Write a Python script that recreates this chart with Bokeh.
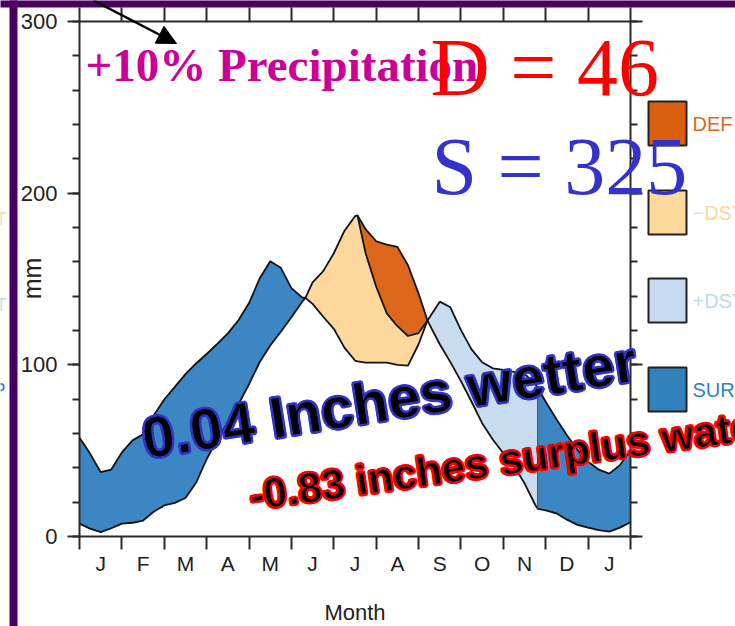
import math
from bokeh.plotting import figure
from bokeh.models import (LinearAxis, FixedTicker, Label, BoxAnnotation, Arrow,
                          NormalHead, Range1d, ColumnDataSource)
from bokeh.embed import file_html
from bokeh.resources import INLINE

# ---------------- data ----------------
month = [0, 0.25, 0.5, 0.75, 1, 1.25, 1.5, 1.75, 2, 2.25, 2.5, 2.75, 3, 3.25, 3.5, 3.75,
         4, 4.25, 4.5, 4.75, 5, 5.25, 5.33, 5.5, 5.75, 6, 6.25, 6.5, 6.56, 6.75, 7, 7.25,
         7.5, 7.75, 8, 8.21, 8.5, 8.75, 9, 9.25, 9.5, 9.75, 10, 10.25, 10.5, 10.75, 10.81,
         11, 11.25, 11.5, 11.75, 12, 12.25, 12.5, 12.75, 13]

precip = [57.5, 48.3, 37.5, 39.0, 49.0, 56.0, 59.5, 70.5, 79.8, 87.2, 94.6, 100.8, 106.3,
          112.2, 118.3, 126.0, 136.0, 150.3, 160.3, 156.5, 144.7, 139.3, 139.0, 135.5,
          128.0, 121.0, 110.0, 102.5, 102.0, 101.3, 101.3, 101.3, 100.0, 99.5, 112.0, 125.8,
          136.8, 133.5, 120.2, 109.0, 101.5, 98.0, 97.0, 95.9, 94.7, 89.0, 86.5, 78.5, 68.5,
          59.0, 50.5, 43.5, 39.0, 36.6, 41.6, 50.0]

pet = [7.5, 4.6, 2.5, 4.8, 7.5, 8.0, 9.3, 14.4, 18.1, 19.6, 22.4, 31.3, 45.0, 56.6, 66.5,
       77.0, 88.7, 101.5, 111.3, 119.3, 127.7, 136.6, 139.0, 148.0, 154.6, 165.0, 178.0,
       186.6, 187.0, 179.0, 172.0, 170.0, 168.7, 158.0, 141.5, 125.8, 112.0, 101.6, 90.5,
       78.5, 66.0, 56.5, 48.5, 41.0, 31.0, 18.5, 16.1, 15.2, 13.5, 9.8, 6.8, 5.2, 3.7, 2.8,
       5.2, 8.3]

aet = [7.5, 4.6, 2.5, 4.8, 7.5, 8.0, 9.3, 14.4, 18.1, 19.6, 22.4, 31.3, 45.0, 56.6, 66.5,
       77.0, 88.7, 101.5, 111.3, 119.3, 127.7, 136.6, 139.0, 148.0, 154.6, 165.0, 178.0,
       186.6, 187.0, 165.0, 145.5, 130.0, 122.5, 116.8, 118.5, 125.8, 112.0, 101.6, 90.5,
       78.5, 66.0, 56.5, 48.5, 41.0, 31.0, 18.5, 16.1, 15.2, 13.5, 9.8, 6.8, 5.2, 3.7, 2.8,
       5.2, 8.3]

# water-balance events (month units)
soil_use_start = 5.33
deficit_start = 6.56
recharge_start = 8.21
surplus_resume = 10.81

month_labels = ["J", "F", "M", "A", "M", "J", "J", "A", "S", "O", "N", "D", "J"]
y_major = [0, 100, 200, 300]
y_minor = [0, 20, 40, 60, 80, 100, 120, 140, 160, 180, 200, 220, 240, 260, 280, 300]

legend_names = ["DEF", "\u2212DST", "+DST", "SURP"]
legend_fill = ["#D95F0E", "#FDD99B", "#C6DBEF", "#3182BD"]
legend_text_color = ["#D9691E", "#FDD49A", "#C0D8EE", "#3182BD"]
area_fill = {"SURP": "#3C87C3", "+DST": "#C8DCEF", "-DST": "#FDD89C", "DEF": "#DC661A"}

# ---------------- geometry: page pixels <-> data ----------------
W, H = 735, 626
F_LEFT, F_RIGHT, F_TOP, F_BOTTOM = 79, 630, 21, 536
PPX = (F_RIGHT - F_LEFT) / 13.0
PPY = (F_BOTTOM - F_TOP) / 300.0
X0 = -F_LEFT / PPX
Y1 = 300 + F_TOP / PPY


def X(px):
    return X0 + px / PPX


def Y(py):
    return Y1 - py / PPY


p = figure(width=W, height=H, x_range=Range1d(X0, X(W)), y_range=Range1d(Y(H), Y1),
           x_axis_type=None, y_axis_type=None, output_backend="svg", toolbar_location=None,
           min_border=0)
p.outline_line_color = None
p.background_fill_color = "white"
p.border_fill_color = "white"

AX = "#2a2a2a"


def style_axis(ax):
    ax.axis_line_color = AX
    ax.axis_line_width = 2
    ax.major_tick_line_color = AX
    ax.major_tick_line_width = 2
    ax.minor_tick_line_color = AX
    ax.minor_tick_line_width = 2
    ax.major_tick_in = 0
    ax.minor_tick_in = 0


bottom = LinearAxis(fixed_location=0, bounds=(0, 13),
                    ticker=FixedTicker(ticks=[i + 0.5 for i in range(13)],
                                       minor_ticks=list(range(14))))
bottom.major_label_overrides = {i + 0.5: lab for i, lab in enumerate(month_labels)}
style_axis(bottom)
bottom.major_tick_out = 0
bottom.minor_tick_out = 13
bottom.major_label_standoff = 2
bottom.major_label_text_font = "Liberation Sans"
bottom.major_label_text_font_size = "21px"
bottom.major_label_text_color = "#222222"
p.add_layout(bottom, "below")

top = LinearAxis(fixed_location=300, bounds=(0, 13),
                 ticker=FixedTicker(ticks=[], minor_ticks=list(range(14))))
style_axis(top)
top.major_tick_out = 0
top.minor_tick_out = 14
p.add_layout(top, "above")

left = LinearAxis(fixed_location=0, bounds=(0, 300),
                  ticker=FixedTicker(ticks=y_major, minor_ticks=y_minor))
style_axis(left)
left.major_tick_out = 12
left.minor_tick_out = 7
left.major_label_standoff = 10
left.major_label_text_font = "Liberation Sans"
left.major_label_text_font_size = "22px"
left.major_label_text_color = "#222222"
p.add_layout(left, "left")

right = LinearAxis(fixed_location=13, bounds=(0, 300),
                   ticker=FixedTicker(ticks=y_major, minor_ticks=y_minor))
style_axis(right)
right.major_tick_out = 12
right.minor_tick_out = 7
right.major_label_overrides = {v: "" for v in y_major}
p.add_layout(right, "right")


# ---------------- water balance areas ----------------
def part(lo, hi, lower, upper):
    idx = [i for i, m in enumerate(month) if lo - 1e-9 <= m <= hi + 1e-9]
    return ColumnDataSource(dict(x=[month[i] for i in idx],
                                 y1=[lower[i] for i in idx],
                                 y2=[upper[i] for i in idx]))


p.varea(x="x", y1="y1", y2="y2", source=part(0, soil_use_start, pet, precip),
        fill_color=area_fill["SURP"])
p.varea(x="x", y1="y1", y2="y2", source=part(soil_use_start, recharge_start, precip, aet),
        fill_color=area_fill["-DST"])
p.varea(x="x", y1="y1", y2="y2", source=part(deficit_start, recharge_start, aet, pet),
        fill_color=area_fill["DEF"])
p.varea(x="x", y1="y1", y2="y2", source=part(recharge_start, surplus_resume, pet, precip),
        fill_color=area_fill["+DST"])
p.varea(x="x", y1="y1", y2="y2", source=part(surplus_resume, 13, pet, precip),
        fill_color=area_fill["SURP"])

p.line(month, precip, line_color="#111111", line_width=1.8)
p.line(month, pet, line_color="#111111", line_width=1.8)
d = part(deficit_start, recharge_start, aet, pet)
p.line(x="x", y="y1", source=d, line_color="#111111", line_width=1.8)
k = month.index(surplus_resume)
p.segment(x0=[surplus_resume], y0=[pet[k]], x1=[surplus_resume], y1=[precip[k]],
          line_color="#555555", line_width=1.2)

# ---------------- slide decorations ----------------
PURPLE = "#4a0060"
p.add_layout(BoxAnnotation(left=X(9), right=X(17), bottom=Y(H + 5), top=Y(-5),
                           fill_color=PURPLE, fill_alpha=1, line_alpha=0))
p.add_layout(BoxAnnotation(left=X(-5), right=X(W + 5), bottom=Y(7), top=Y(-5),
                           fill_color=PURPLE, fill_alpha=1, line_alpha=0))


def label(text, px, py, size, color, font="Liberation Sans", style="normal", angle=0.0,
          align="left", outline=None, outline_r=0):
    """py is the desired baseline (page px); anchor is the text middle."""
    up = 0.35 * size
    ax = px - up * math.sin(angle)
    ay = py - up * math.cos(angle)
    common = dict(x=X(ax), y=Y(ay), text=text, angle=angle, text_font=font,
                  text_font_style=style, text_font_size=f"{size}px",
                  text_baseline="middle", text_align=align)
    if outline is not None:
        r = outline_r
        q = r * 0.72
        for dx, dy in [(-r, 0), (r, 0), (0, -r), (0, r), (-q, -q), (q, -q), (-q, q), (q, q)]:
            p.add_layout(Label(x_offset=dx, y_offset=dy, text_color=outline, **common))
        p.add_layout(Label(text_color=color, text_outline_color=outline, **common))
    else:
        p.add_layout(Label(text_color=color, **common))


# faint fragments of a hidden slide at the far left
label("\u2212DST", 6, 225, 18, "#FDD49A", align="right")
label("+DST", 6, 311, 18, "#C0D8EE", align="right")
label("SURP", 5, 396, 18, "#3182BD", align="right")

box_top_px = [101, 190, 278, 367]
for name, fc, tc, t in zip(legend_names, legend_fill, legend_text_color, box_top_px):
    p.add_layout(BoxAnnotation(left=X(648), right=X(686), top=Y(t), bottom=Y(t + 44),
                               fill_color=fc, fill_alpha=1, line_color="#222222",
                               line_alpha=1, line_width=2))
    label(name, 692, t + 29, 20, tc)

# axis titles
label("mm", 40, 278, 25, "#222222", angle=math.pi / 2, align="center")
label("Month", 354.5, 620, 22, "#222222", align="center")

p.add_layout(Arrow(end=NormalHead(size=19, fill_color="black", line_color="black"),
                   x_start=X(93), y_start=Y(0), x_end=X(176), y_end=Y(43),
                   line_width=2.5, line_color="black"))

label("+10% Precipitation", 85, 81, 47, "#CC0099", font="Liberation Serif", style="bold")
label("D = 46", 430, 96, 82, "#FF0000", font="Liberation Serif")
label("S = 325", 431, 195, 82, "#3333CC", font="Liberation Serif")

label("0.04 Inches wetter", 145, 458, 58, "black", style="bold", angle=math.radians(9),
      outline="#3333CC", outline_r=2)
label("-0.83 inches surplus water", 251, 510, 42, "black", style="bold",
      angle=math.radians(8), outline="#FF0000", outline_r=2)

open("out.html", "w").write(file_html(p, INLINE))
